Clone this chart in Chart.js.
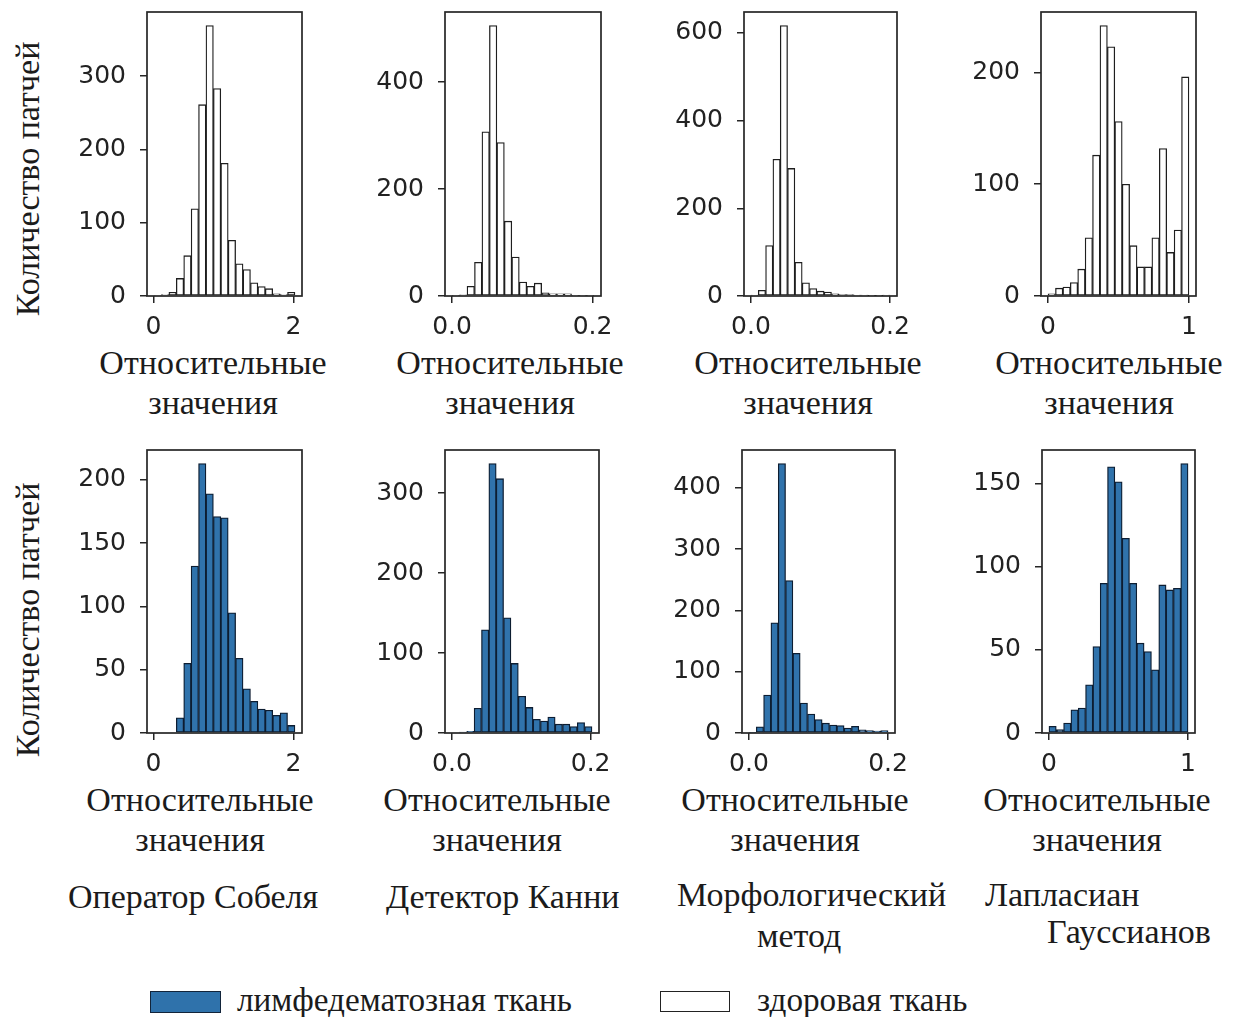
<!DOCTYPE html>
<html lang="ru">
<head>
<meta charset="utf-8">
<title>Гистограммы относительных значений</title>
<script src="https://cdn.jsdelivr.net/npm/chart.js@4/dist/chart.umd.min.js"></script>
<style>
  html, body { margin: 0; padding: 0; background: #fff; }
  body { position: relative; width: 1235px; height: 1017px; overflow: hidden; }
  canvas { position: absolute; }
  .t {
    position: absolute;
    font-family: "Liberation Serif", "Times New Roman", serif;
    font-size: 34px;
    line-height: 40px;
    color: #1b1b1b;
    white-space: nowrap;
  }
  .xl { width: 340px; text-align: center; }
  .yl { transform: translate(-50%, -50%) rotate(-90deg); }
  .lg { font-size: 33.2px; }
  .swatch { position: absolute; box-sizing: border-box; }
</style>
</head>
<body>

<!-- y-axis titles -->
<div class="t yl" style="left:28px;top:179px">Количество патчей</div>
<div class="t yl" style="left:28px;top:620px">Количество патчей</div>

<!-- x-axis titles, top row -->
<div class="t xl" style="left:43px;top:343px">Относительные<br>значения</div>
<div class="t xl" style="left:340px;top:343px">Относительные<br>значения</div>
<div class="t xl" style="left:638px;top:343px">Относительные<br>значения</div>
<div class="t xl" style="left:939px;top:343px">Относительные<br>значения</div>

<!-- x-axis titles, bottom row -->
<div class="t xl" style="left:30px;top:780px">Относительные<br>значения</div>
<div class="t xl" style="left:327px;top:780px">Относительные<br>значения</div>
<div class="t xl" style="left:625px;top:780px">Относительные<br>значения</div>
<div class="t xl" style="left:927px;top:780px">Относительные<br>значения</div>

<!-- column captions -->
<div class="t" style="left:68px;top:877px">Оператор Собеля</div>
<div class="t" style="left:386px;top:877px">Детектор Канни</div>
<div class="t" style="left:677px;top:875px">Морфологический</div>
<div class="t" style="left:757px;top:916px">метод</div>
<div class="t" style="left:985px;top:875px">Лапласиан</div>
<div class="t" style="left:1047px;top:912px">Гауссианов</div>

<!-- legend -->
<div class="swatch" style="left:150px;top:991px;width:71px;height:22px;background:#2f72ab;border:1.5px solid #12243a"></div>
<div class="t lg" style="left:237px;top:980px">лимфедематозная ткань</div>
<div class="swatch" style="left:660px;top:991px;width:70px;height:21px;background:#fff;border:1.5px solid #222"></div>
<div class="t lg" style="left:757px;top:980px">здоровая ткань</div>

<script>
// Histogram bin counts (19 equal bins per histogram)
const sobelHealthy = [1, 2, 5, 24, 55, 119, 261, 369, 283, 181, 76, 44, 36, 18, 13, 10, 3, 2, 5];
const cannyHealthy = [1, 2, 18, 63, 307, 506, 287, 140, 73, 26, 18, 24, 6, 4, 4, 4, 1, 1, 1];
const morphHealthy = [2, 13, 115, 312, 617, 291, 77, 30, 17, 11, 9, 5, 3, 3, 2, 2, 1, 1, 2];
const logHealthy   = [2, 7, 8, 12, 24, 52, 126, 242, 223, 156, 100, 45, 26, 26, 52, 132, 39, 59, 196];

const sobelLymph = [0, 0, 0, 12, 55, 132, 213, 189, 171, 170, 95, 59, 35, 25, 19, 18, 14, 16, 6];
const cannyLymph = [0, 1, 2, 31, 129, 337, 318, 144, 87, 46, 32, 17, 15, 20, 11, 11, 8, 13, 8];
const morphLymph = [1, 10, 62, 180, 440, 249, 130, 49, 31, 22, 16, 13, 12, 8, 11, 5, 4, 3, 4];
const logLymph   = [4, 2, 6, 14, 15, 29, 52, 90, 160, 151, 117, 90, 54, 49, 38, 89, 86, 87, 162];

// Value range covered by the bins of each method
const sobelRange = [0.01, 2.02];
const cannyRange = [0.0, 0.202];
const morphRange = [0.0, 0.2];
const logRange   = [0.0, 1.0];

// Tick positions and labels
const sobelXTicks = [0, 2];     const sobelXLabels = ['0', '2'];
const cannyXTicks = [0, 0.2];   const cannyXLabels = ['0.0', '0.2'];
const morphXTicks = [0, 0.2];   const morphXLabels = ['0.0', '0.2'];
const logXTicks   = [0, 1];     const logXLabels   = ['0', '1'];

const sobelHealthyYTicks = [0, 100, 200, 300];
const cannyHealthyYTicks = [0, 200, 400];
const morphHealthyYTicks = [0, 200, 400, 600];
const logHealthyYTicks   = [0, 100, 200];
const sobelLymphYTicks   = [0, 50, 100, 150, 200];
const cannyLymphYTicks   = [0, 100, 200, 300];
const morphLymphYTicks   = [0, 100, 200, 300, 400];
const logLymphYTicks     = [0, 50, 100, 150];

const healthyStyle = { fill: '#ffffff', edge: '#1e1e1e' };
const lymphStyle   = { fill: '#3073ac', edge: '#0d1d31' };

// plot frame rectangles on the page: [left, top, right, bottom]
const panels = [
  { box: [147, 12, 302, 296], counts: sobelHealthy, range: sobelRange, yTicks: sobelHealthyYTicks, xTicks: sobelXTicks, xLabels: sobelXLabels, style: healthyStyle },
  { box: [445, 12, 601, 296], counts: cannyHealthy, range: cannyRange, yTicks: cannyHealthyYTicks, xTicks: cannyXTicks, xLabels: cannyXLabels, style: healthyStyle },
  { box: [744, 12, 897, 296], counts: morphHealthy, range: morphRange, yTicks: morphHealthyYTicks, xTicks: morphXTicks, xLabels: morphXLabels, style: healthyStyle },
  { box: [1041, 12, 1196, 296], counts: logHealthy, range: logRange, yTicks: logHealthyYTicks, xTicks: logXTicks, xLabels: logXLabels, style: healthyStyle },
  { box: [147, 450, 302, 733], counts: sobelLymph, range: sobelRange, yTicks: sobelLymphYTicks, xTicks: sobelXTicks, xLabels: sobelXLabels, style: lymphStyle },
  { box: [445, 450, 599, 733], counts: cannyLymph, range: cannyRange, yTicks: cannyLymphYTicks, xTicks: cannyXTicks, xLabels: cannyXLabels, style: lymphStyle },
  { box: [742, 450, 895, 733], counts: morphLymph, range: morphRange, yTicks: morphLymphYTicks, xTicks: morphXTicks, xLabels: morphXLabels, style: lymphStyle },
  { box: [1042, 450, 1195, 733], counts: logLymph, range: logRange, yTicks: logLymphYTicks, xTicks: logXTicks, xLabels: logXLabels, style: lymphStyle }
];

Chart.defaults.font.family = '"DejaVu Sans", sans-serif';
Chart.defaults.color = '#222222';

// full rectangular frame around each plot area
const framePlugin = {
  id: 'frame',
  afterDatasetsDraw(chart) {
    const { ctx, chartArea: a } = chart;
    ctx.save();
    ctx.strokeStyle = '#262626';
    ctx.lineWidth = 1.7;
    ctx.strokeRect(a.left, a.top, a.right - a.left, a.bottom - a.top);
    ctx.restore();
  }
};

const Y_AXIS_W = 80, X_AXIS_H = 50, PAD_TOP = 32, PAD_RIGHT = 30;

panels.forEach(p => {
  const [l, t, r, b] = p.box;
  const W = Y_AXIS_W + (r - l) + PAD_RIGHT;
  const H = PAD_TOP + (b - t) + X_AXIS_H;
  const cv = document.createElement('canvas');
  cv.width = W; cv.height = H;
  cv.style.left = (l - Y_AXIS_W) + 'px';
  cv.style.top = (t - PAD_TOP) + 'px';
  cv.style.width = W + 'px';
  cv.style.height = H + 'px';
  document.body.appendChild(cv);

  const n = p.counts.length;
  const lo = p.range[0], hi = p.range[1];
  const binW = (hi - lo) / n;
  const span = hi - lo;
  const points = p.counts.map((c, i) => ({ x: lo + binW * (i + 0.5), y: c }));
  const yMax = Math.max(...p.counts) * 1.05;

  new Chart(cv, {
    type: 'bar',
    data: {
      datasets: [{
        data: points,
        backgroundColor: p.style.fill,
        borderColor: p.style.edge,
        borderWidth: 1.3,
        borderSkipped: false,
        barPercentage: 1,
        categoryPercentage: 1
      }]
    },
    options: {
      responsive: false,
      animation: false,
      devicePixelRatio: 1,
      layout: { padding: { top: PAD_TOP, right: PAD_RIGHT, left: 0, bottom: 0 } },
      plugins: { legend: { display: false }, tooltip: { enabled: false } },
      scales: {
        x: {
          type: 'linear',
          offset: false,
          min: lo - 0.05 * span,
          max: hi + 0.05 * span,
          afterBuildTicks: s => { s.ticks = p.xTicks.map(v => ({ value: v })); },
          afterFit: s => { s.height = X_AXIS_H; },
          ticks: {
            autoSkip: false, maxRotation: 0, padding: 9,
            font: { size: 25 }, color: '#222222',
            callback: (v, i) => p.xLabels[i]
          },
          grid: { offset: false, drawOnChartArea: false, drawTicks: true, tickLength: 7, color: '#262626', lineWidth: 1.5 },
          border: { display: false }
        },
        y: {
          type: 'linear',
          min: 0,
          max: yMax,
          afterBuildTicks: s => { s.ticks = p.yTicks.map(v => ({ value: v })); },
          afterFit: s => { s.width = Y_AXIS_W; },
          ticks: {
            autoSkip: false, padding: 14,
            font: { size: 25 }, color: '#222222',
            callback: v => String(v)
          },
          grid: { drawOnChartArea: false, drawTicks: true, tickLength: 7, color: '#262626', lineWidth: 1.5 },
          border: { display: false }
        }
      }
    },
    plugins: [framePlugin]
  });
});
</script>
</body>
</html>
